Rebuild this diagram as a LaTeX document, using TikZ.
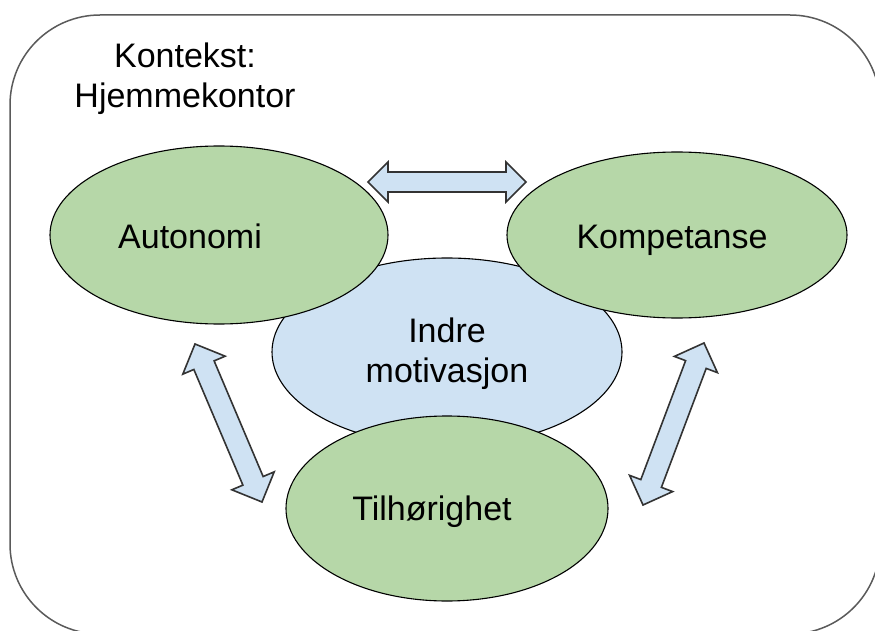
\documentclass[tikz,border=0pt]{standalone}
\usepackage{fontspec}
\setmainfont{Liberation Sans}
\usetikzlibrary{calc,shapes.geometric}
\definecolor{greenfill}{HTML}{B6D7A8}
\definecolor{bluefill}{HTML}{CFE2F3}
\definecolor{framegray}{HTML}{5A5A5A}
\definecolor{arrowline}{HTML}{333333}
\tikzset{
  frame/.style={draw=framegray, line width=1.5pt, rounded corners=90pt},
  greenell/.style={ellipse, draw=black, line width=1.1pt, fill=greenfill, inner sep=0pt},
  blueell/.style={ellipse, draw=black, line width=1.1pt, fill=bluefill, inner sep=0pt},
  lbl/.style={anchor=base, inner sep=0pt, font=\fontsize{34}{40}\selectfont},
  blockarrow/.style={draw=arrowline, line width=1.6pt, fill=bluefill, line join=miter},
}
% #1,#2 end coordinates, #3 head length, #4 head half width, #5 shaft half width
\newcommand{\blockdblarrow}[5]{%
  \coordinate (#1-h) at ($(#1)!#3!(#2)$);
  \coordinate (#2-h) at ($(#2)!#3!(#1)$);
  \draw[blockarrow] (#1)
    -- ($(#1-h)!#4!90:(#2)$) -- ($(#1-h)!#5!90:(#2)$)
    -- ($(#2-h)!#5!-90:(#1)$) -- ($(#2-h)!#4!-90:(#1)$)
    -- (#2)
    -- ($(#2-h)!#4!90:(#1)$) -- ($(#2-h)!#5!90:(#1)$)
    -- ($(#1-h)!#5!-90:(#2)$) -- ($(#1-h)!#4!-90:(#2)$)
    -- cycle;
}
\begin{document}
\begin{tikzpicture}[x=1pt, y=-1pt]
  \clip (0,0) rectangle (875,631);
  \fill[white] (0,0) rectangle (875,631);
  % outer context frame (extends past the picture's edge)
  \draw[frame] (10,15) rectangle (880,634);
  \node[lbl] (kontekst) at (185,68) {Kontekst:};
  \node[lbl] (hjemme) at (185,108) {Hjemmekontor};

  % central ellipse (behind the others)
  \node[blueell, minimum width=350pt, minimum height=188pt] (indre) at (447,352) {};
  \node[greenell, minimum width=338pt, minimum height=178pt] (autonomi) at (219,235) {};
  \node[greenell, minimum width=340pt, minimum height=166pt] (kompetanse) at (677,235) {};
  \node[greenell, minimum width=322pt, minimum height=185pt] (tilhorighet) at (447,508.5) {};

  \node[lbl] (tIndre) at (447,342) {Indre};
  \node[lbl] (tMotiv) at (447,382) {motivasjon};
  \node[lbl] (tAuto) at (190,248) {Autonomi};
  \node[lbl] (tKomp) at (672,248) {Kompetanse};
  \node[lbl] (tTilh) at (432,520) {Tilhørighet};

  % double block arrows
  \coordinate (topA) at (368,182);
  \coordinate (topB) at (526,182);
  \coordinate (leftA) at (195,344);
  \coordinate (leftB) at (262,502);
  \coordinate (rightA) at (704,343);
  \coordinate (rightB) at (643,505);
  \blockdblarrow{topA}{topB}{20pt}{20pt}{10pt}
  \blockdblarrow{leftA}{leftB}{23pt}{23pt}{11pt}
  \blockdblarrow{rightA}{rightB}{23pt}{23pt}{11pt}
\end{tikzpicture}
\end{document}
